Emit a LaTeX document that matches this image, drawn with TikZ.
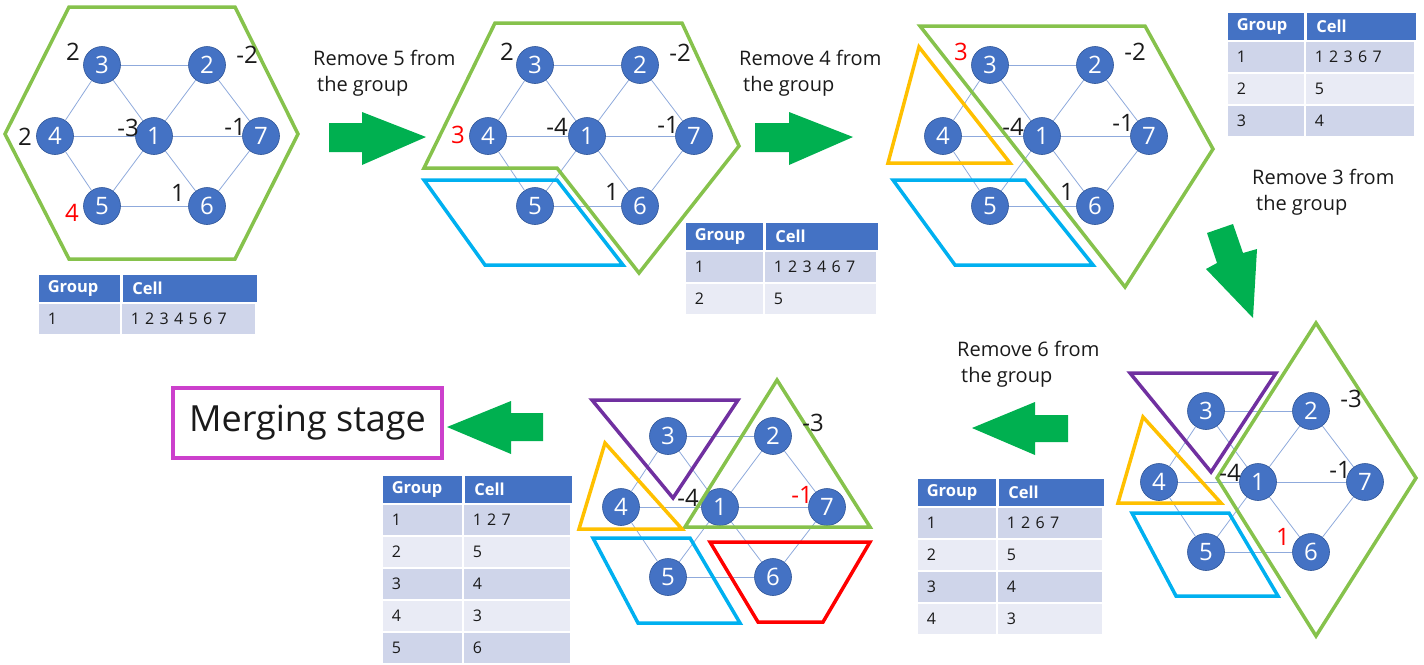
\documentclass[tikz,border=0pt]{standalone}
\usepackage{fontspec}
\setmainfont{Open Sans}
\usetikzlibrary{positioning}
\definecolor{cellblue}{HTML}{4472C4}
\definecolor{celledge}{HTML}{2F5597}
\definecolor{linkblue}{HTML}{8FAADC}
\definecolor{grpgreen}{HTML}{86C24C}
\definecolor{grpblue}{HTML}{00B0F0}
\definecolor{grporange}{HTML}{FFC000}
\definecolor{grppurple}{HTML}{7030A0}
\definecolor{grpred}{HTML}{FF0000}
\definecolor{arrowgreen}{HTML}{00B050}
\definecolor{mergemag}{HTML}{CC40CC}
\definecolor{rowdark}{HTML}{CFD5EA}
\definecolor{rowlight}{HTML}{E9EBF5}
\definecolor{ink}{HTML}{1A1A1A}
\tikzset{
  cell/.style={
    circle,
    fill=cellblue,
    draw=celledge,
    line width=0.6pt,
    minimum size=37pt,
    inner sep=0pt,
    text=white,
    font=\fontsize{24}{26}\selectfont
  },
  link/.style={
    draw=linkblue,
    line width=0.8pt
  },
  val/.style={
    inner sep=0pt,
    text=ink,
    font=\fontsize{24}{26}\selectfont
  },
  redval/.style={
    val,
    text=grpred
  },
  grp/.style={
    line width=3.5pt,
    line join=miter
  },
  blockarrow/.style={
    fill=arrowgreen,
    draw=none
  },
  step note/.style={
    align=left,
    anchor=north west,
    inner sep=0pt,
    text=ink,
    font=\fontsize{20}{26}\selectfont
  },
  thcell/.style={
    anchor=north west,
    fill=cellblue,
    draw=white,
    line width=1.5pt,
    minimum height=29pt,
    inner xsep=10pt,
    inner ysep=0pt,
    align=left,
    text=white,
    font=\bfseries\fontsize{16.5}{18}\selectfont
  },
  tdcell/.style={
    thcell,
    minimum height=32pt,
    text=ink,
    font=\fontsize{16}{18}\selectfont
  },
  mergebox/.style={
    draw=mergemag,
    line width=4pt,
    fill=white,
    minimum width=269pt,
    minimum height=70pt,
    text=ink,
    font=\fontsize{36}{40}\selectfont
  }
}
% the seven cells and their neighbour links, centred on cell 1
\newcommand{\cellnet}[1]{%
  \node[cell] (#11) at (0,0) {1};
  \node[cell] (#12) at (53,-71) {2};
  \node[cell] (#13) at (-52,-71) {3};
  \node[cell] (#14) at (-99,0) {4};
  \node[cell] (#15) at (-52,70) {5};
  \node[cell] (#16) at (53,70) {6};
  \node[cell] (#17) at (107,0) {7};
  \foreach \u/\v in {3/2,3/4,3/1,2/1,2/7,4/1,1/7,4/5,5/1,1/6,6/7,5/6}
    \draw[link] (#1\u) -- (#1\v);
}
% group table: name, left, top, width of both columns, rows
\newcommand{\grouptable}[6]{%
  \node[thcell, text width=#4pt-20pt] (#1g) at (#2,#3) {Group};
  \node[thcell, text width=#5pt-20pt, right=0pt of #1g.north east, anchor=north west] (#1c) {Cell};
  \foreach \g/\c [count=\i] in {#6} {
    \pgfmathsetmacro{\rowy}{#3+29+32*(\i-1)}
    \pgfmathtruncatemacro{\odd}{mod(\i,2)}
    \ifnum\odd=1 \def\rowfill{rowdark}\else\def\rowfill{rowlight}\fi
    \node[tdcell, fill=\rowfill, text width=#4pt-20pt] (#1g\i) at (#2,\rowy) {\g};
    \node[tdcell, fill=\rowfill, text width=#5pt-20pt] (#1c\i) at (#2+#4,\rowy) {\c};
  }
}
\begin{document}
\begin{tikzpicture}[x=1pt,y=-1pt]
  \useasboundingbox (0,0) rectangle (1424,664);

  % step 1
  \begin{scope}[shift={(154,136)}]
    \cellnet{a}
  \end{scope}
  \draw[grp, grpgreen] (69,7) -- (235,7) -- (298,134) -- (235,259) -- (69,259) -- (5,134) -- cycle;
  \begin{scope}[shift={(154,136)}]
    \node[val] (av3) at (-81,-84) {2};
    \node[val] (av2) at (93,-81) {-2};
    \node[val] (av4) at (-129,1) {2};
    \node[val] (av1) at (-26,-8) {-3};
    \node[val] (av7) at (81,-9) {-1};
    \node[val] (av6) at (24,57) {1};
    \node[redval] (av5) at (-82,77) {4};
  \end{scope}
  \grouptable{ta}{37}{273}{83}{135}{1/1 2 3 4 5 6 7}

  \fill[blockarrow] (329,123) -- (362,123) -- (362,112) -- (426,137) -- (362,165) -- (362,152) -- (329,152) -- cycle;
  \node[step note] (note5) at (313,50) {Remove 5 from\\\hspace{4pt}the group};

  % step 2
  \begin{scope}[shift={(587,136)}]
    \cellnet{b}
  \end{scope}
  \draw[grp, grpgreen] (495,23) -- (682,23) -- (739,146) -- (639,273) -- (557,168) -- (424,168) -- cycle;
  \draw[grp, grpblue] (424,180) -- (557,180) -- (623,265) -- (485,265) -- cycle;
  \begin{scope}[shift={(587,136)}]
    \node[val] (bv3) at (-80,-84) {2};
    \node[val] (bv2) at (93,-83) {-2};
    \node[redval] (bv4) at (-129,-1) {3};
    \node[val] (bv1) at (-30,-9) {-4};
    \node[val] (bv7) at (81,-11) {-1};
    \node[val] (bv6) at (25,56) {1};
  \end{scope}
  \grouptable{tb}{684}{221}{79}{113}{1/1 2 3 4 6 7, 2/5}

  \fill[blockarrow] (755,123) -- (789,123) -- (789,112) -- (853,137) -- (789,165) -- (789,152) -- (755,152) -- cycle;
  \node[step note] (note4) at (739,50) {Remove 4 from\\\hspace{4pt}the group};

  % step 3
  \begin{scope}[shift={(1042,136)}]
    \cellnet{c}
  \end{scope}
  \draw[grp, grpgreen] (920,26) -- (1145,26) -- (1213,149) -- (1125,287) -- cycle;
  \draw[grp, grporange] (919,47) -- (1010,163) -- (888,163) -- cycle;
  \draw[grp, grpblue] (893,180) -- (1025,180) -- (1093,265) -- (955,265) -- cycle;
  \begin{scope}[shift={(1042,136)}]
    \node[redval] (cv3) at (-81,-84) {3};
    \node[val] (cv2) at (93,-84) {-2};
    \node[val] (cv1) at (-29,-9) {-4};
    \node[val] (cv7) at (81,-13) {-1};
    \node[val] (cv6) at (25,56) {1};
  \end{scope}
  \grouptable{tc}{1226}{11}{78}{110}{1/1 2 3 6 7, 2/5, 3/4}

  \node[step note] (note3) at (1252,169) {Remove 3 from\\\hspace{4pt}the group};
  \fill[blockarrow] (1207,233) -- (1233,224) -- (1243,253) -- (1257,249) -- (1253,318) -- (1206,269) -- (1217,263) -- cycle;

  % step 4
  \begin{scope}[shift={(1258,482)}]
    \cellnet{d}
  \end{scope}
  \draw[grp, grpgreen] (1316,323) -- (1416,478) -- (1316,636) -- (1217,478) -- cycle;
  \draw[grp, grppurple] (1130,373) -- (1276,373) -- (1211,472) -- cycle;
  \draw[grp, grporange] (1143,417) -- (1221,503) -- (1118,503) -- cycle;
  \draw[grp, grpblue] (1132,513) -- (1229,513) -- (1278,596) -- (1176,596) -- cycle;
  \begin{scope}[shift={(1258,482)}]
    \node[val] (dv2) at (93,-83) {-3};
    \node[val] (dv1) at (-28,-9) {-4};
    \node[val] (dv7) at (82,-12) {-1};
    \node[redval] (dv6) at (25,55) {1};
  \end{scope}
  \grouptable{td}{916}{477}{80}{106}{1/1 2 6 7, 2/5, 3/4, 4/3}

  \fill[blockarrow] (1068,415) -- (1035,415) -- (1035,402) -- (972,428) -- (1035,455) -- (1035,442) -- (1068,442) -- cycle;
  \node[step note] (note6) at (957,341) {Remove 6 from\\\hspace{4pt}the group};

  % step 5
  \begin{scope}[shift={(720,507)}]
    \cellnet{e}
  \end{scope}
  \draw[grp, grpgreen] (777,380) -- (870,527) -- (685,527) -- cycle;
  \draw[grp, grppurple] (592,400) -- (738,400) -- (673,498) -- cycle;
  \draw[grp, grporange] (605,443) -- (682,529) -- (579,529) -- cycle;
  \draw[grp, grpblue] (593,538) -- (690,538) -- (740,623) -- (638,623) -- cycle;
  \draw[grp, grpred] (710,542) -- (870,542) -- (823,622) -- (758,622) -- cycle;
  \begin{scope}[shift={(720,507)}]
    \node[val] (ev2) at (93,-84) {-3};
    \node[val] (ev1) at (-32,-9) {-4};
    \node[redval] (ev7) at (82,-12) {-1};
  \end{scope}
  \grouptable{te}{381}{474}{81}{108}{1/1 2 7, 2/5, 3/4, 4/3, 5/6}

  \fill[blockarrow] (543,413) -- (511,413) -- (511,401) -- (447,427) -- (511,454) -- (511,441) -- (543,441) -- cycle;
  \node[mergebox] (merge) at (307.5,423) {Merging stage};
\end{tikzpicture}
\end{document}
